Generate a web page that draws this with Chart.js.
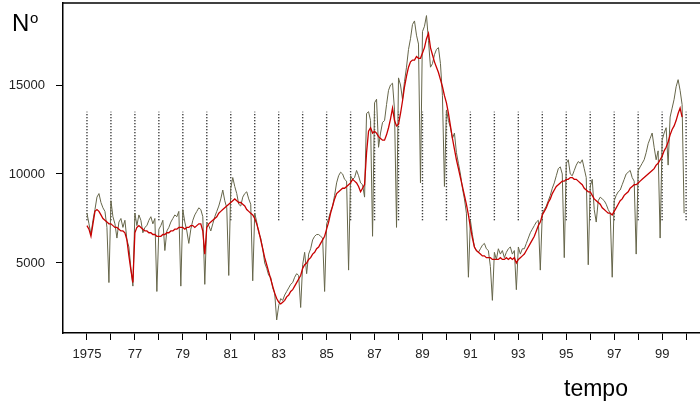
<!DOCTYPE html>
<html>
<head>
<meta charset="utf-8">
<script src="https://cdn.jsdelivr.net/npm/chart.js@4.4.1/dist/chart.umd.min.js"></script>
<style>
  html, body { margin: 0; padding: 0; background: #fff; }
  #wrap { position: relative; width: 700px; height: 404px; }
</style>
</head>
<body>
<div id="wrap"><canvas id="c" width="700" height="404"></canvas></div>
<script>
// First year of the monthly series (Jan 1975 .. Dec 1999)
const startYear = 1975;

// Monthly observed counts, one row per year (Jan..Dec)
const observed = [
  7800, 7200, 6600, 7400, 8000, 8700, 8900, 8400, 8100, 7900, 7000, 3900,   // 1975
  8500, 7600, 7200, 6400, 7300, 7500, 7000, 7400, 6300, 5900, 4700, 3700,   // 1976
  7800, 7100, 7700, 7400, 6700, 7000, 7100, 7400, 7600, 7200, 7500, 3400,   // 1977
  6900, 7100, 7400, 5700, 6800, 7000, 7300, 7500, 7700, 7600, 7900, 3700,   // 1978
  8000, 7300, 6800, 6100, 6900, 7400, 7700, 7900, 8100, 8000, 7600, 3800,   // 1979
  7300, 7100, 6800, 7200, 7600, 7900, 8200, 8600, 9100, 8500, 8100, 4300,   // 1980
  9200, 9800, 9300, 8900, 8300, 8200, 8700, 8900, 9000, 8600, 8300, 4000,   // 1981
  7800, 7300, 6700, 6400, 5800, 5000, 4700, 4300, 4200, 3600, 3300, 1800,   // 1982
  2600, 3000, 2900, 3200, 3400, 3600, 3800, 3900, 4200, 4400, 4300, 2500,   // 1983
  4900, 5600, 4400, 5500, 5800, 6300, 6500, 6600, 6600, 6500, 6400, 3400,   // 1984
  7200, 7500, 7900, 8200, 8800, 9500, 9900, 10100, 10000, 9700, 9600, 4600, // 1985
  9900, 9700, 9800, 10200, 9900, 9500, 9400, 8700, 13400, 13500, 13000, 6500, // 1986
  14000, 14200, 11500, 12300, 12900, 13000, 13900, 14700, 15000, 15100, 13600, 7000, // 1987
  15400, 15000, 14200, 15200, 16000, 17000, 17600, 18400, 18600, 17800, 17300, 9500, // 1988
  18000, 18300, 18900, 17500, 16000, 16200, 16700, 17000, 17100, 16200, 14400, 9300, // 1989
  13600, 13000, 12600, 12000, 12300, 11200, 10600, 10000, 9200, 8600, 7800, 4200, // 1990
  7400, 6600, 5900, 5700, 5600, 5800, 6000, 6100, 5800, 5700, 4800, 2900,   // 1991
  5600, 5200, 5800, 5500, 5700, 5300, 5600, 5800, 5900, 5500, 5700, 3500,   // 1992
  5900, 5500, 5800, 5800, 6100, 6400, 6700, 6900, 7100, 7300, 7400, 4600,   // 1993
  7800, 8000, 8200, 8500, 8800, 9200, 9500, 9900, 10300, 10400, 10000, 5300, // 1994
  10600, 10800, 10000, 9900, 10200, 10500, 10700, 10600, 10800, 10300, 9800, 4900, // 1995
  9300, 9700, 8000, 7300, 8500, 8700, 8600, 8500, 8300, 8000, 7800, 4200,   // 1996
  8500, 8800, 9000, 9100, 9400, 9700, 10000, 10100, 10200, 9800, 9600, 5500, // 1997
  10200, 10400, 10600, 10800, 11200, 11700, 12000, 12300, 11500, 10800, 11300, 6400, // 1998
  11900, 12300, 12600, 10500, 13200, 13700, 14200, 14900, 15300, 14700, 13900, 7800  // 1999
];

// Smoothed trend of the same series
const trend = [
  7100, 6900, 6500, 7200, 7900, 8000, 7900, 7700, 7500, 7400, 7300, 7200,   // 1975
  7200, 7100, 7000, 7000, 6900, 6800, 6800, 6700, 6300, 5400, 4600, 3900,   // 1976
  6700, 7000, 7100, 7000, 6900, 6800, 6800, 6700, 6700, 6600, 6600, 6500,   // 1977
  6500, 6500, 6600, 6600, 6700, 6700, 6800, 6800, 6900, 6900, 7000, 7000,   // 1978
  7000, 6900, 7000, 7000, 7100, 7100, 7000, 7100, 7200, 7200, 6800, 5500,   // 1979
  7000, 7200, 7300, 7400, 7500, 7600, 7800, 7900, 8000, 8100, 8200, 8300,   // 1980
  8400, 8500, 8600, 8500, 8400, 8400, 8300, 8200, 8000, 7900, 7800, 7700,   // 1981
  7500, 7200, 6800, 6300, 5800, 5300, 4900, 4500, 4100, 3700, 3300, 3000,   // 1982
  2800, 2700, 2800, 2900, 3100, 3200, 3400, 3500, 3700, 3900, 4100, 4300,   // 1983
  4700, 4900, 5000, 5200, 5300, 5500, 5600, 5800, 5900, 6100, 6300, 6500,   // 1984
  6900, 7300, 7800, 8200, 8600, 8900, 9000, 9100, 9200, 9200, 9300, 9400,   // 1985
  9500, 9700, 9600, 9500, 9300, 9000, 9200, 9400, 11200, 12400, 12600, 12300, // 1986
  12400, 12300, 12100, 12000, 11900, 11900, 12200, 12600, 13100, 13700, 13000, 12700, // 1987
  12800, 13400, 14100, 14900, 15500, 16000, 16300, 16400, 16400, 16600, 16500, 16500, // 1988
  16800, 17100, 17600, 17900, 17100, 16700, 16300, 16000, 15700, 15300, 14900, 14400, // 1989
  14000, 13400, 12700, 12000, 11400, 10800, 10300, 9800, 9300, 8800, 8300, 7700, // 1990
  7000, 6400, 5900, 5700, 5600, 5500, 5400, 5400, 5300, 5300, 5300, 5200,   // 1991
  5200, 5200, 5200, 5300, 5200, 5200, 5300, 5200, 5300, 5200, 5300, 5000,   // 1992
  5200, 5300, 5400, 5500, 5700, 5900, 6100, 6300, 6500, 6800, 7100, 7300,   // 1993
  7700, 7900, 8100, 8400, 8600, 8900, 9100, 9300, 9400, 9500, 9600, 9600,   // 1994
  9700, 9700, 9800, 9800, 9700, 9700, 9600, 9500, 9400, 9200, 9100, 9000,   // 1995
  9000, 8800, 8600, 8500, 8400, 8300, 8100, 8000, 7900, 7800, 7800, 7700,   // 1996
  7900, 8100, 8300, 8500, 8600, 8800, 8900, 9000, 9200, 9300, 9400, 9400,   // 1997
  9500, 9600, 9700, 9800, 9900, 10000, 10100, 10200, 10300, 10500, 10600, 10800, // 1998
  11000, 11300, 11500, 11800, 12200, 12500, 12700, 13000, 13400, 13700, 13200, null // 1999
];

// Year ticks on the time axis, and the span of the dotted year markers
const yearTicks = Array.from({ length: 26 }, (_, i) => startYear + i);
const markerSpan = [7400, 13500];
const countTicks = [5000, 10000, 15000];

const FONT = "Arial, 'Liberation Sans', sans-serif";

const toPoints = arr => arr.map((v, i) => ({ x: startYear + i / 12, y: v }));

// Dotted year markers: one vertical segment per year, separated by gaps
const markerPoints = [];
yearTicks.forEach(yr => {
  markerPoints.push({ x: yr, y: markerSpan[0] }, { x: yr, y: markerSpan[1] }, { x: yr, y: null });
});

// Frame line along the top of the plot and the two free-standing labels
const frameAndLabels = {
  id: 'frameAndLabels',
  afterDraw(chart) {
    const { ctx, chartArea: a } = chart;
    ctx.save();
    ctx.strokeStyle = '#000';
    ctx.lineWidth = 1.5;
    ctx.beginPath();
    ctx.moveTo(a.left, a.top);
    ctx.lineTo(a.right, a.top);
    ctx.stroke();
    ctx.fillStyle = '#000';
    ctx.textBaseline = 'alphabetic';
    ctx.textAlign = 'left';
    ctx.font = '24px ' + FONT;
    ctx.fillText('N', 12, 31);
    ctx.font = '15px ' + FONT;
    ctx.fillText('o', 30, 23);
    ctx.font = '23px ' + FONT;
    ctx.fillText('tempo', 564, 396);
    ctx.restore();
  }
};

new Chart(document.getElementById('c'), {
  type: 'line',
  data: {
    datasets: [
      {
        data: toPoints(trend),
        borderColor: '#c80000',
        borderWidth: 1.3,
        pointRadius: 0,
        tension: 0,
        spanGaps: false,
        order: 1
      },
      {
        data: toPoints(observed),
        borderColor: '#66664a',
        borderWidth: 1,
        pointRadius: 0,
        tension: 0,
        order: 2
      },
      {
        data: markerPoints,
        borderColor: '#000',
        borderWidth: 1.4,
        borderDash: [1, 2],
        pointRadius: 0,
        spanGaps: false,
        order: 3
      }
    ]
  },
  options: {
    responsive: false,
    animation: false,
    devicePixelRatio: 1,
    layout: { padding: { top: 3, right: 0, bottom: 0, left: 0 } },
    plugins: { legend: { display: false }, tooltip: { enabled: false } },
    scales: {
      x: {
        type: 'linear',
        min: 1974,
        max: 2000.58,
        afterBuildTicks: s => { s.ticks = yearTicks.map(v => ({ value: v })); },
        afterFit: s => { s.height = 71; s.paddingLeft = 0; s.paddingRight = 0; },
        ticks: {
          autoSkip: false,
          maxRotation: 0,
          padding: 7,
          color: '#222',
          font: { family: FONT, size: 13 },
          callback: v => (v === startYear ? String(v) : (v % 2 === 1 ? String(v).slice(2) : ''))
        },
        grid: { drawOnChartArea: false, drawTicks: true, tickLength: 7, tickColor: '#000', tickWidth: 1 },
        border: { display: true, color: '#000', width: 1.5 }
      },
      y: {
        min: 1067,
        max: 19607,
        afterBuildTicks: s => { s.ticks = countTicks.map(v => ({ value: v })); },
        afterFit: s => { s.width = 63; s.paddingTop = 0; s.paddingBottom = 0; },
        ticks: {
          padding: 11,
          color: '#222',
          font: { family: FONT, size: 13 },
          callback: v => String(v)
        },
        grid: { drawOnChartArea: false, drawTicks: true, tickLength: 7, tickColor: '#000', tickWidth: 1 },
        border: { display: true, color: '#000', width: 1.5 }
      }
    }
  },
  plugins: [frameAndLabels]
});
</script>
</body>
</html>
